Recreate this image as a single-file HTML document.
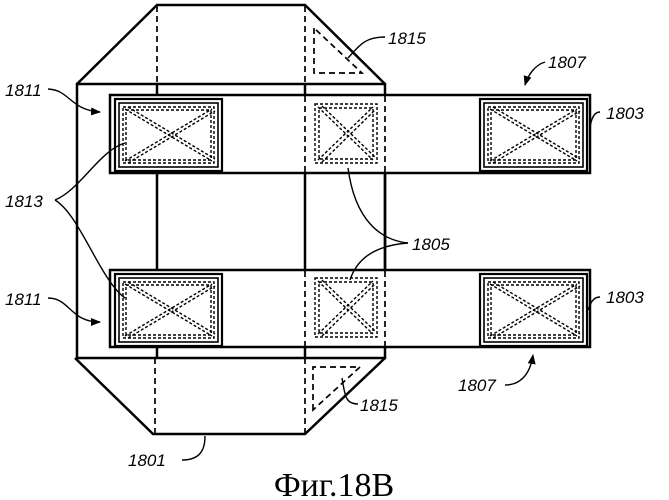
<!DOCTYPE html>
<html><head><meta charset="utf-8"><style>
html,body{margin:0;padding:0;background:#fff;width:669px;height:500px;overflow:hidden}
svg{display:block}
text{font-family:"Liberation Sans",sans-serif;font-style:italic;font-size:17px;fill:#000}
</style></head><body>
<svg width="669" height="500" viewBox="0 0 669 500" xmlns="http://www.w3.org/2000/svg">
<defs>
<g id="bigbox">
  <rect x="0" y="0" width="107" height="72" fill="none" stroke="#000" stroke-width="2.2"/>
  <rect x="4" y="4" width="99" height="64" fill="none" stroke="#000" stroke-width="1.6"/>
  <rect x="8" y="8" width="91" height="56" fill="none" stroke="#000" stroke-width="1.4" stroke-dasharray="3,2"/>
  <rect x="11" y="11" width="85" height="50" fill="none" stroke="#000" stroke-width="1.4" stroke-dasharray="3,2"/>
  <line x1="10" y1="10" x2="97" y2="62" stroke="#000" stroke-width="1.4" stroke-dasharray="3,2"/>
  <line x1="13" y1="8" x2="100" y2="60" stroke="#000" stroke-width="1.4" stroke-dasharray="3,2"/>
  <line x1="10" y1="62" x2="97" y2="10" stroke="#000" stroke-width="1.4" stroke-dasharray="3,2"/>
  <line x1="13" y1="64" x2="100" y2="12" stroke="#000" stroke-width="1.4" stroke-dasharray="3,2"/>
</g>
<g id="smallbox">
  <rect x="0" y="0" width="62" height="59" fill="none" stroke="#000" stroke-width="1.4" stroke-dasharray="3,2"/>
  <rect x="4" y="4" width="54" height="51" fill="none" stroke="#000" stroke-width="1.4" stroke-dasharray="3,2"/>
  <line x1="3" y1="3" x2="58" y2="56" stroke="#000" stroke-width="1.4" stroke-dasharray="3,2"/>
  <line x1="7" y1="2" x2="60" y2="53" stroke="#000" stroke-width="1.4" stroke-dasharray="3,2"/>
  <line x1="3" y1="56" x2="58" y2="3" stroke="#000" stroke-width="1.4" stroke-dasharray="3,2"/>
  <line x1="7" y1="58" x2="60" y2="6" stroke="#000" stroke-width="1.4" stroke-dasharray="3,2"/>
</g>
<marker id="ah" markerWidth="10" markerHeight="8" refX="9" refY="4" orient="auto" markerUnits="userSpaceOnUse">
  <path d="M0,0 L10,4 L0,8 Z" fill="#000"/>
</marker>
</defs>
<g stroke="#000" stroke-width="2.5" fill="none">
  <rect x="77" y="84" width="308" height="274"/>
  <path d="M77,84 L157,5 L305,5 L385,84"/>
  <path d="M75,358 L153,434 L305,434 L385,358"/>
  <line x1="157" y1="84" x2="157" y2="95"/>
  <line x1="157" y1="173" x2="157" y2="270"/>
  <line x1="157" y1="347" x2="157" y2="358"/>
  <line x1="305" y1="84" x2="305" y2="95"/>
  <line x1="305" y1="173" x2="305" y2="270"/>
  <line x1="305" y1="347" x2="305" y2="358"/>
  <line x1="385" y1="173" x2="385" y2="270"/>
  <rect x="110" y="95" width="480" height="78" fill="#fff"/>
  <rect x="110" y="270" width="480" height="77" fill="#fff"/>
</g>
<g stroke="#000" stroke-width="1.7" fill="none" stroke-dasharray="6,4">
  <line x1="157" y1="6" x2="157" y2="84"/>
  <line x1="305" y1="6" x2="305" y2="84"/>
  <line x1="155" y1="358" x2="155" y2="433"/>
  <line x1="305" y1="358" x2="305" y2="433"/>
  <line x1="305" y1="96" x2="305" y2="172"/>
  <line x1="385" y1="96" x2="385" y2="172"/>
  <line x1="305" y1="271" x2="305" y2="346"/>
  <line x1="385" y1="271" x2="385" y2="346"/>
  <path d="M314,28 L314,73 L362,73 Z"/>
  <path d="M313,410 L313,367 L360,367 Z"/>
</g>
<use href="#bigbox" x="115" y="99"/>
<use href="#bigbox" x="480" y="99"/>
<use href="#bigbox" x="115" y="274"/>
<use href="#bigbox" x="480" y="274"/>
<use href="#smallbox" x="315" y="104"/>
<use href="#smallbox" x="315" y="278"/>
<g stroke="#000" stroke-width="1.4" fill="none">
  <path d="M48,89 C70,90 70,110 100,112" marker-end="url(#ah)"/>
  <path d="M48,298 C70,298 70,322 100,322" marker-end="url(#ah)"/>
  <path d="M55,200 C80,190 100,150 125,143"/>
  <path d="M55,200 C80,215 100,280 125,298"/>
  <path d="M385,37 C365,37 360,45 348,58"/>
  <path d="M545,62 C535,65 528,75 525,85" marker-end="url(#ah)"/>
  <path d="M600,112 C592,112 590,125 590,130"/>
  <path d="M600,297 C592,297 590,305 588,310"/>
  <path d="M408,243 C380,240 355,220 348,168"/>
  <path d="M408,243 C380,245 358,255 350,280"/>
  <path d="M505,385 C520,385 530,375 533,355" marker-end="url(#ah)"/>
  <path d="M358,404 C345,404 345,395 342,378"/>
  <path d="M182,460 C200,460 205,450 205,436"/>
</g>
<text x="5" y="96">1811</text>
<text x="5" y="305">1811</text>
<text x="5" y="207">1813</text>
<text x="388" y="44">1815</text>
<text x="548" y="68">1807</text>
<text x="606" y="119">1803</text>
<text x="606" y="303">1803</text>
<text x="412" y="250">1805</text>
<text x="458" y="391">1807</text>
<text x="360" y="411">1815</text>
<text x="128" y="466">1801</text>
<text x="334" y="496" text-anchor="middle" style="font-family:'Liberation Serif',serif;font-style:normal;font-size:34px">Фиг.18В</text>
</svg>
</body></html>
